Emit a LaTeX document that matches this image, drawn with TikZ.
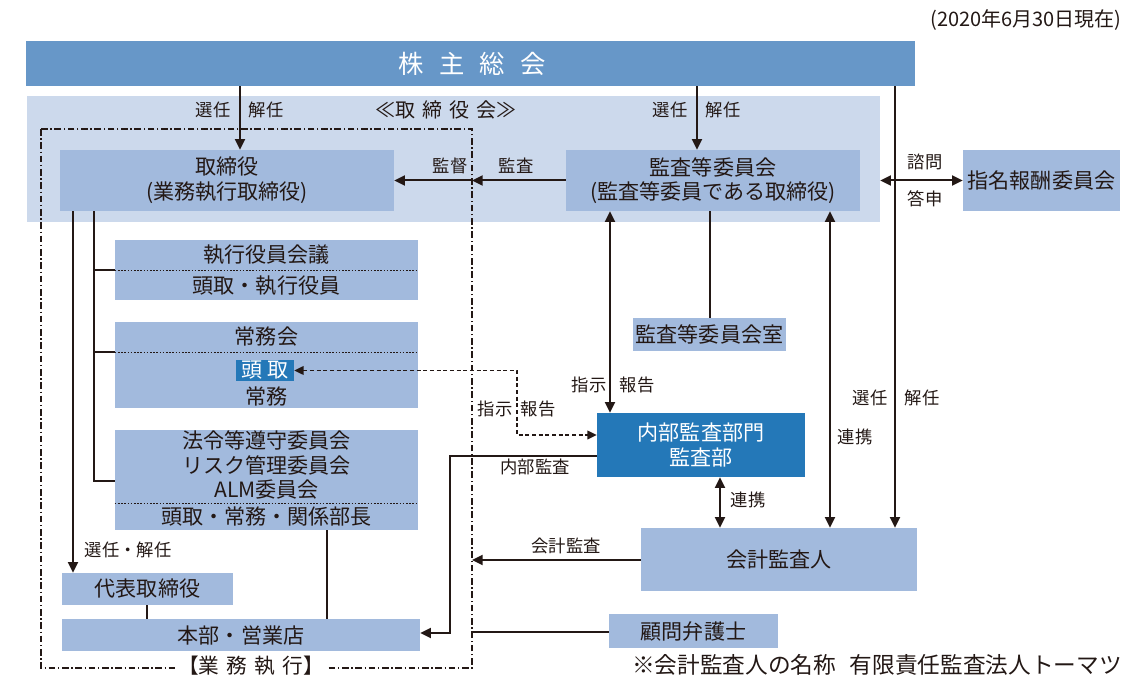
\documentclass[tikz,border=0pt]{standalone}
\usepackage{fontspec}
\setmainfont{Noto Sans CJK JP}
\usetikzlibrary{arrows.meta,fit}
\definecolor{barc}{HTML}{6797C8}
\definecolor{bgc}{HTML}{CCD9EC}
\definecolor{boxc}{HTML}{A2BADD}
\definecolor{darkc}{HTML}{2478B8}
\definecolor{txt}{HTML}{231815}
\begin{document}
\begin{tikzpicture}[x=0.75pt,y=-0.75pt,
  box/.style={fill=boxc, inner sep=0pt},
  btext/.style={text=txt, align=center, inner sep=0pt, font=\fontsize{15.8}{18.5}\selectfont},
  lbl/.style={text=txt, font=\fontsize{13}{15}\selectfont, inner sep=0pt},
  con/.style={draw=txt, line width=1.5pt},
  tip/.tip={Triangle[length=8pt,width=7.5pt]},
  arr/.style={con, -tip},
  darr/.style={con, tip-tip},
  dsh/.style={draw=txt, line width=1.1pt, dash pattern=on 3pt off 2pt, {Triangle[length=7pt,width=6.5pt]}-{Triangle[length=7pt,width=6.5pt]}},
  dashdot/.style={draw=txt, line width=1pt, dash pattern=on 5pt off 2pt on 1pt off 2pt},
  divline/.style={draw=txt, line width=0.7pt, dash pattern=on 1.2pt off 1.2pt}
]
\useasboundingbox (0,0) rectangle (1125,677);

% header
\node[lbl, anchor=east, font=\fontsize{15}{17}\selectfont] (date) at (1122,20) {(2020年6月30日現在)};
\node[fill=barc, inner sep=0pt, fit={(26,41) (915,86)}] (sh) {};
\node[text=white, inner sep=0pt, font=\fontsize{19}{21}\selectfont] (shtext) at (sh.center -| 472,0) {株\hspace{0.6em}主\hspace{0.6em}総\hspace{0.6em}会};

% board background
\node[fill=bgc, inner sep=0pt, fit={(27,96) (880,222)}] (bg) {};
\node[lbl, font=\fontsize{15}{17}\selectfont] (torlbl) at (446,110) {≪取\hspace{0.35em}締\hspace{0.35em}役\hspace{0.35em}会≫};

% execution frame
\draw[dashdot] (41,129) rectangle (472,668);
\coordinate (fr) at (472,400);
\node[fill=white, inner sep=2pt, text=txt, font=\fontsize{15.5}{17}\selectfont] (gyomu) at (251,666) {【業\hspace{0.35em}務\hspace{0.35em}執\hspace{0.35em}行】};

% boxes
\node[box, fit={(60,150) (394,211)}] (tor) {};
\node[btext] (tor-t) at (tor.center) {取締役\\(業務執行取締役)};
\node[box, fit={(566,150) (860,211)}] (kan) {};
\node[btext] (kan-t) at (kan.center) {監査等委員会\\(監査等委員である取締役)};
\node[box, fit={(963,150) (1120,211)}] (shimei) {};
\node[btext] (shimei-t) at (shimei.center) {指名報酬委員会};

\node[box, fit={(115,240) (418,300)}] (shikko) {};
\node[btext] (shikko1) at (266.5,255) {執行役員会議};
\node[btext] (shikko2) at (266.5,285.5) {頭取・執行役員};
\draw[divline] (shikko.west |- 0,270) -- (shikko.east |- 0,270);

\node[box, fit={(115,322) (418,408)}] (jomu) {};
\node[btext] (jomu1) at (266.5,337) {常務会};
\node[fill=darkc, inner sep=0pt, fit={(236,360) (294,381)}] (todori) {};
\node[btext, text=white] (todori-t) at (todori.center) {頭\hspace{0.25em}取};
\node[btext] (jomu2) at (266.5,396) {常務};
\draw[divline] (jomu.west |- 0,352) -- (jomu.east |- 0,352);

\node[box, fit={(115,430) (418,530)}] (hourei) {};
\node[btext] (hourei1) at (266.5,465) {法令等遵守委員会\\リスク管理委員会\\ALM委員会};
\node[btext] (hourei2) at (266.5,517) {頭取・常務・関係部長};
\draw[divline] (hourei.west |- 0,503) -- (hourei.east |- 0,503);

\node[box, fit={(62,573) (233,605)}] (daihyo) {};
\node[btext] (daihyo-t) at (daihyo.center) {代表取締役};
\node[box, fit={(62,619) (420,651)}] (honbu) {};
\node[btext] (honbu-t) at (honbu.center) {本部・営業店};

\node[box, fit={(633,318) (786,351)}] (kanshitsu) {};
\node[btext] (kanshitsu-t) at (kanshitsu.center) {監査等委員会室};
\node[fill=darkc, inner sep=0pt, fit={(597,413) (805,477)}] (naibu) {};
\node[btext, text=white] (naibu-t) at (naibu.center) {内部監査部門\\監査部};
\node[box, fit={(641,528) (917,591)}] (kai) {};
\node[btext] (kai-t) at (kai.center) {会計監査人};
\node[box, fit={(609,614) (778,648)}] (komon) {};
\node[btext] (komon-t) at (komon.center) {顧問弁護士};

% connectors from general meeting
\draw[arr] (sh.south -| 240,0) -- (tor.north -| 240,0);
\draw[arr] (sh.south -| 697,0) -- (kan.north -| 697,0);
\draw[arr] (sh.south -| 895,0) -- (kai.north -| 895,0);

% audit / supervision
\draw[arr] (kan.west) -- (fr |- kan.west);
\draw[arr] (fr |- tor.east) -- (tor.east);

% nomination committee
\draw[darr] (bg.east |- shimei.west) -- (shimei.west);

% from audit committee
\draw[darr] (kan.south -| 610,0) -- (naibu.north -| 610,0);
\draw[con] (kan.south -| kanshitsu.north) -- (kanshitsu.north);
\draw[darr] (kan.south -| 830,0) -- (kai.north -| 830,0);
\draw[darr] (naibu.south -| 720,0) -- (kai.north -| 720,0);

% internal audit to branches
\draw[arr] (naibu.west |- 0,456) -- (450,456) -- (450,633) -- (honbu.east |- 0,633);
% accounting audit
\draw[arr] (kai.west |- 0,560) -- (fr |- 0,560);
% lawyer
\draw[con] (komon.west |- 0,632) -- (fr |- 0,632);
% dashed instruction/report
\draw[dsh] (todori.east) -- (517,370.5) -- (517,435) -- (naibu.west |- 0,435);

% tree in execution
\draw[arr] (tor.south -| 73,0) -- (daihyo.north -| 73,0);
\draw[con] (tor.south -| 94,0) -- (94,481) -- (hourei.west |- 0,481);
\draw[con] (94,270) -- (shikko.west |- 0,270);
\draw[con] (94,352) -- (jomu.west |- 0,352);
\draw[con] (daihyo.south -| 147,0) -- (honbu.north -| 147,0);
\draw[con] (hourei.south -| 327,0) -- (honbu.north -| 327,0);

% labels
\node[lbl] (l1) at (213,110) {選任};
\node[lbl] (l2) at (266,110) {解任};
\node[lbl] (l3) at (670,110) {選任};
\node[lbl] (l4) at (723,110) {解任};
\node[lbl] (l5) at (450,166) {監督};
\node[lbl] (l6) at (516,166) {監査};
\node[lbl] (l7) at (925,162) {諮問};
\node[lbl] (l8) at (925,199) {答申};
\node[lbl] (l9) at (589,385) {指示};
\node[lbl] (l10) at (637,385) {報告};
\node[lbl] (l11) at (870,398) {選任};
\node[lbl] (l12) at (922,398) {解任};
\node[lbl] (l13) at (855,437) {連携};
\node[lbl] (l14) at (495,409) {指示};
\node[lbl] (l15) at (538,409) {報告};
\node[lbl] (l16) at (535,467) {内部監査};
\node[lbl] (l17) at (748,500) {連携};
\node[lbl] (l18) at (566,546) {会計監査};
\node[lbl] (l19) at (128,550) {選任・解任};

\node[lbl, anchor=east, font=\fontsize{17}{19}\selectfont] (foot) at (1122,665) {※会計監査人の名称\hspace{0.6em}有限責任監査法人トーマツ};
\end{tikzpicture}
\end{document}
